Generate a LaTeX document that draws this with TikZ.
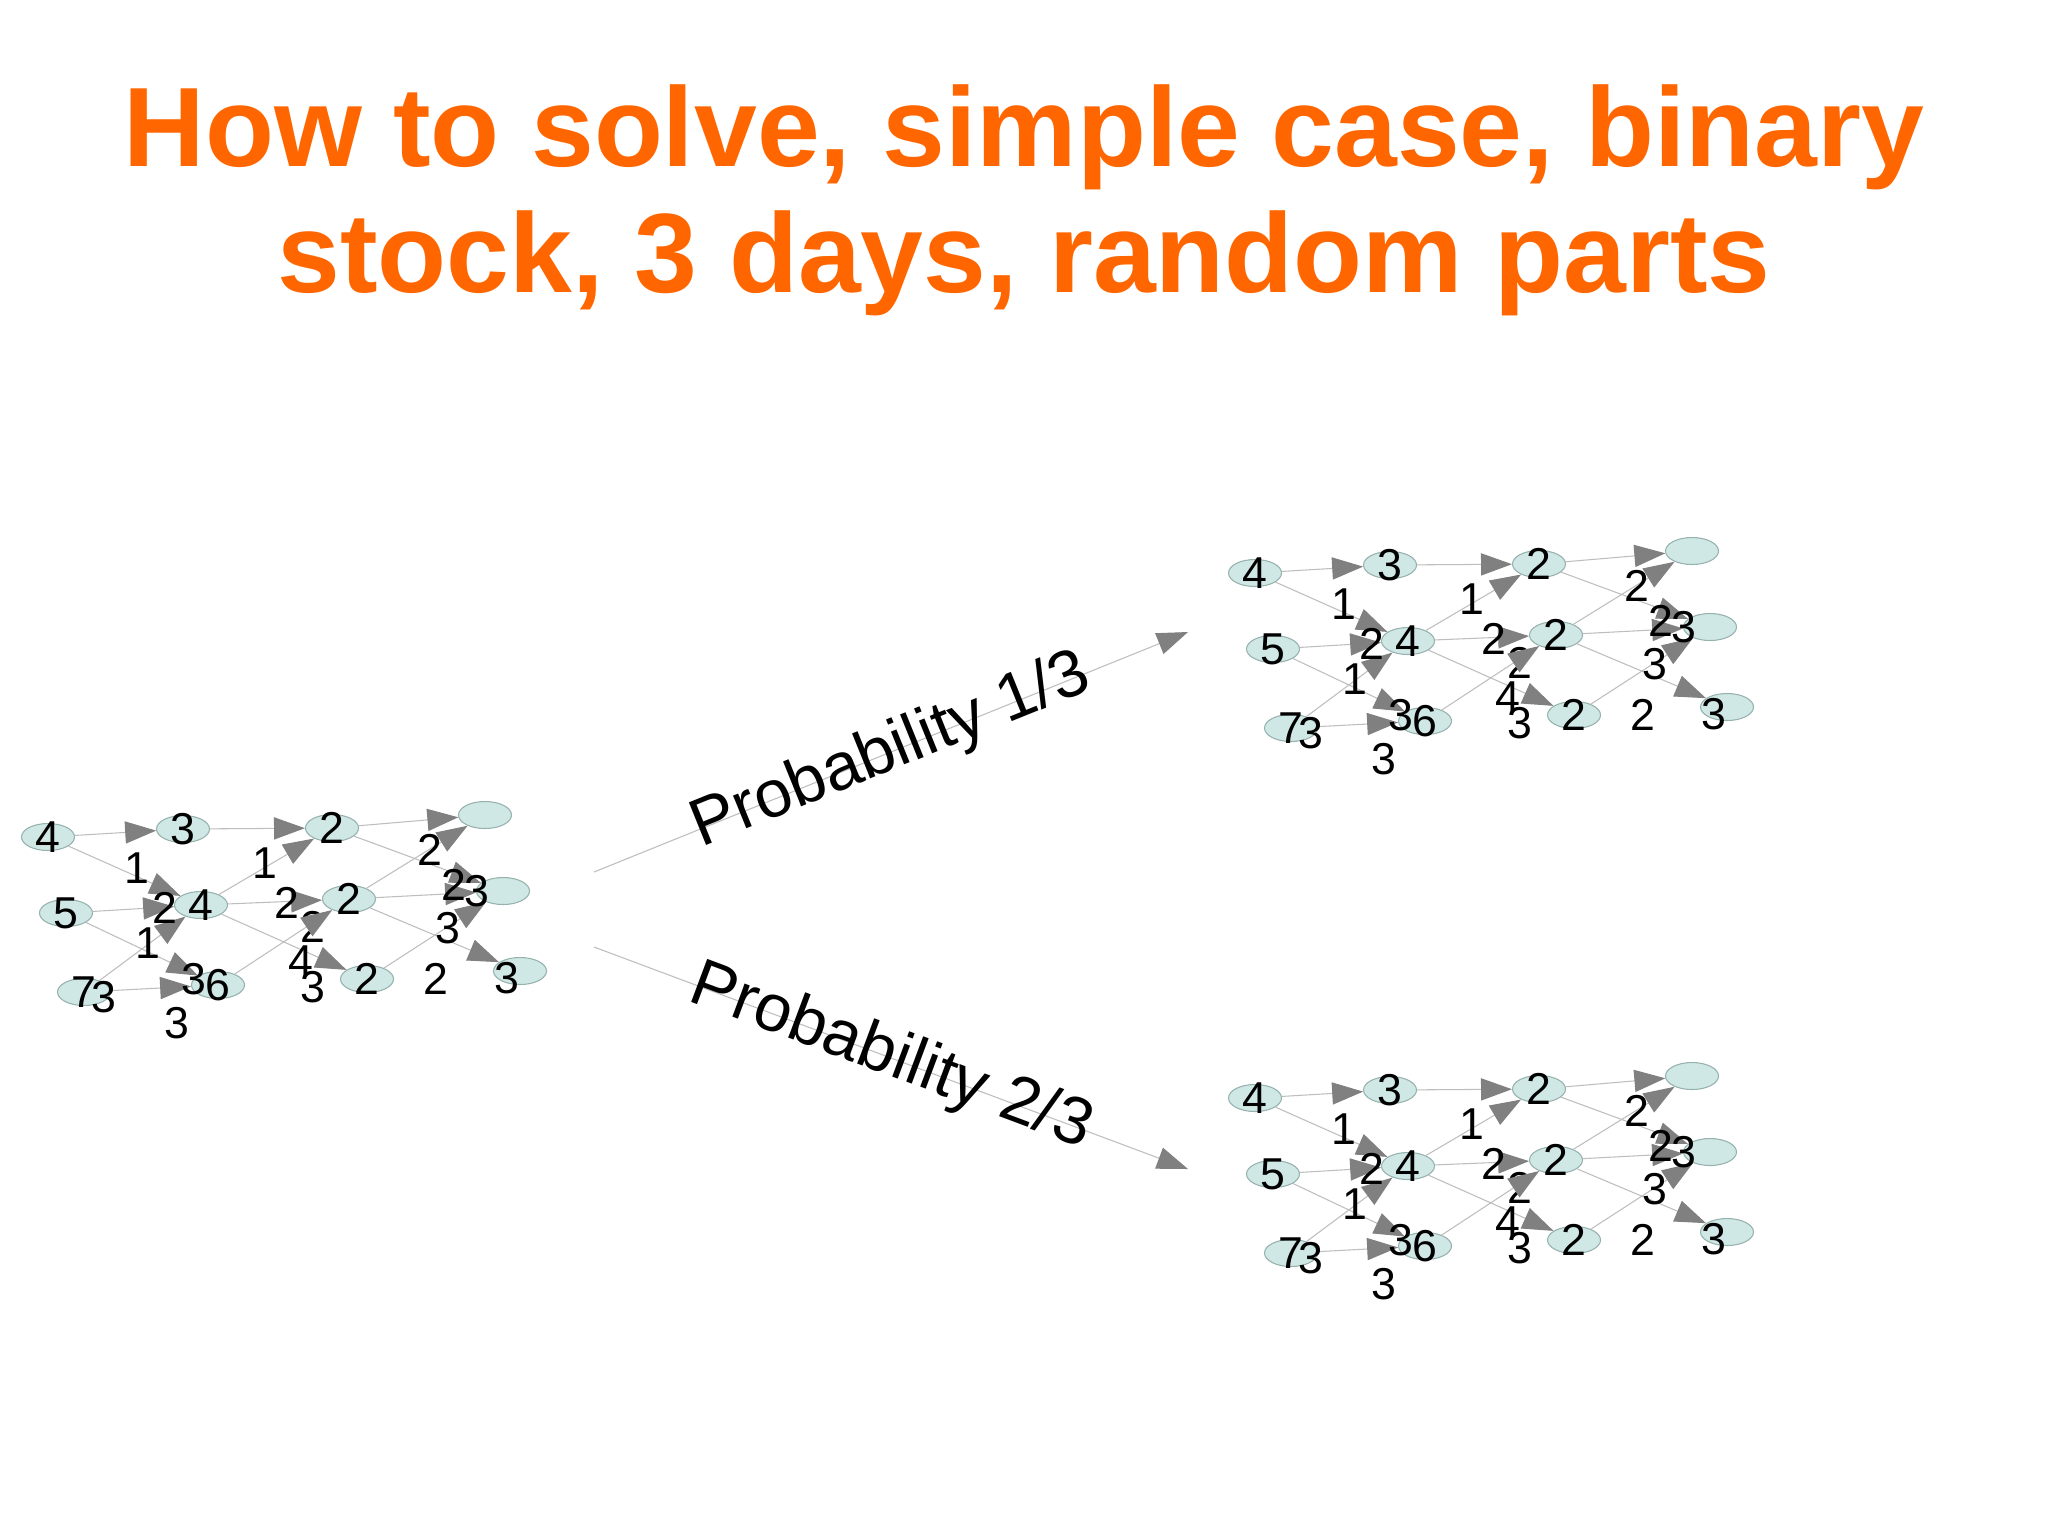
\documentclass[tikz,border=0pt]{standalone}
\usepackage{fontspec}
\setmainfont{Liberation Sans}
\usetikzlibrary{arrows.meta,shapes.geometric}
\definecolor{slideorange}{RGB}{255,102,0}
\definecolor{nodefill}{RGB}{208,232,229}
\definecolor{nodeline}{RGB}{150,178,174}
\definecolor{edgegray}{RGB}{190,190,190}
\definecolor{tipgray}{RGB}{128,128,128}

\begin{document}
\begin{tikzpicture}[
		    x=0.01cm, y=-0.01cm,
		    state/.style={ellipse, draw=nodeline, fill=nodefill, line width=0.3pt,
		        minimum width=0.53cm, minimum height=0.27cm, inner sep=0pt},
		    num/.style={inner sep=0pt, font=\fontsize{12.7}{15}\selectfont},
		    flow/.style={draw=edgegray, line width=0.3pt,
		        -{Triangle[length=8.8pt, width=6.3pt, color=tipgray]}},
		    headline/.style={text=slideorange, inner sep=0pt,
		        font=\fontsize{32.1}{36}\selectfont\bfseries},
		    problabel/.style={inner sep=0pt, sloped, font=\fontsize{19}{22}\selectfont}]
			\fill [white] (0,0) rectangle (2048,1535);
			\useasboundingbox (0,0) rectangle (2048,1535);

			% title
			\node [headline, anchor=base] (title1) at (1024,166) {How to solve, simple case, binary};
			\node [headline, anchor=base] (title2) at (1024,292) {stock, 3 days, random parts};

			% the same graph: today, then the two possible tomorrows
			\foreach \gx/\gy/\gname in {0/0/now, 1207/-264/up, 1207/261/down} {
			\begin{scope}[shift={(\gx,\gy)}, name prefix=\gname-]
				\node [state, label={[num]center:4}] (a) at (48,837) {};
				\node [state, label={[num]center:3}] (b) at (183,829) {};
				\node [state, label={[num]center:2}] (c) at (332,828) {};
				\node [state] (d) at (485,815) {};
				\node [state, label={[num]center:5}] (e) at (66,913) {};
				\node [state, label={[num]center:4}] (f) at (201,905) {};
				\node [state, label={[num]center:2}] (g) at (349,899) {};
				\node [state] (h) at (503,891) {};
				\node [state, label={[num]center:7}] (i) at (84,992) {};
				\node [state, label={[num]center:6}] (j) at (218,985) {};
				\node [state, label={[num]center:2}] (k) at (367,979) {};
				\node [state] (l) at (520,971) {};
				\node [num] (t9) at (313,927) {2};
				\draw [flow] (a) -- (b);
				\draw [flow] (a) -- (f);
				\draw [flow] (b) -- (c);
				\draw [flow] (e) -- (f);
				\draw [flow] (e) -- (j);
				\draw [flow] (i) -- (f);
				\draw [flow] (i) -- (j);
				\draw [flow] (f) -- (c);
				\draw [flow] (f) -- (g);
				\draw [flow] (f) -- (k);
				\draw [flow] (j) -- (g);
				\draw [flow] (c) -- (d);
				\draw [flow] (c) -- (h);
				\draw [flow] (g) -- (d);
				\draw [flow] (g) -- (h);
				\draw [flow] (g) -- (l);
				\draw [flow] (k) -- (h);
				\node [num] (t1) at (137,868) {1};
				\node [num] (t2) at (165,908) {2};
				\node [num] (t3) at (148,943) {1};
				\node [num] (t4) at (104,997) {3};
				\node [num] (t5) at (194,979) {3};
				\node [num] (t6) at (177,1023) {3};
				\node [num] (t7) at (265,863) {1};
				\node [num] (t8) at (287,903) {2};
				\node [num] (t10) at (301,961) {4};
				\node [num] (t11) at (313,987) {3};
				\node [num] (t12) at (430,850) {2};
				\node [num] (t13) at (454,885) {2};
				\node [num] (t14) at (477,891) {3};
				\node [num] (t15) at (448,928) {3};
				\node [num] (t16) at (436,979) {2};
				\node [num] (t17) at (507,978) {3};
			\end{scope}
			}

			% the two outcomes
			\coordinate (start1) at (594,872);
			\coordinate (end1) at (1188,632);
			\coordinate (start2) at (594,947);
			\coordinate (end2) at (1188,1169);
			\draw [flow] (start1) -- node [problabel] (p1) {Probability 1/3} (end1);
			\draw [flow] (start2) -- node [problabel] (p2) {Probability 2/3} (end2);
		\end{tikzpicture}
\end{document}
